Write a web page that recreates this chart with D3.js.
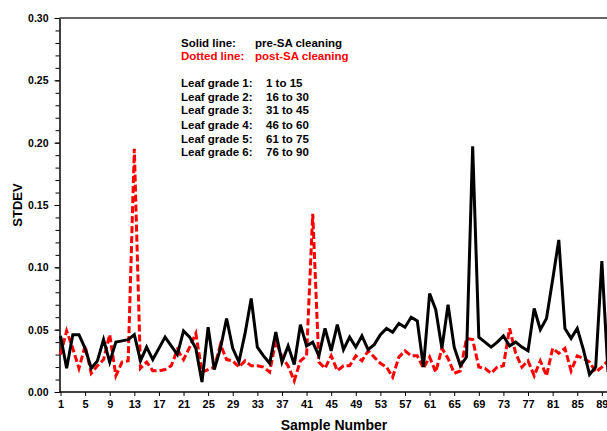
<!DOCTYPE html>
<html>
<head>
<meta charset="utf-8">
<script src="https://cdn.jsdelivr.net/npm/d3@7"></script>
<style>
	html, body { margin: 0; padding: 0; background: #fff; }
	svg { display: block; font-family: "Liberation Sans", Arial, sans-serif; }
	.tick text { font-weight: bold; }
</style>
</head>
<body>
<div id="chart"></div>
<script>
// sample numbers 1..90
var sampleNumbers = d3.range(1, 91);

// pre-SA cleaning (solid black)
var preSA = [
	0.045, 0.019, 0.046, 0.046, 0.035, 0.019, 0.025, 0.042, 0.024, 0.040,
	0.041, 0.042, 0.046, 0.025, 0.036, 0.026, 0.035, 0.044, 0.037, 0.030,
	0.049, 0.044, 0.035, 0.008, 0.052, 0.018, 0.035, 0.059, 0.035, 0.024,
	0.047, 0.075, 0.036, 0.029, 0.023, 0.048, 0.024, 0.037, 0.022, 0.054,
	0.037, 0.040, 0.029, 0.051, 0.033, 0.054, 0.034, 0.044, 0.036, 0.045,
	0.034, 0.038, 0.046, 0.051, 0.048, 0.055, 0.052, 0.060, 0.057, 0.020,
	0.079, 0.066, 0.035, 0.070, 0.036, 0.021, 0.028, 0.197, 0.044, 0.040,
	0.036, 0.040, 0.045, 0.037, 0.040, 0.036, 0.033, 0.067, 0.050, 0.059,
	0.090, 0.122, 0.051, 0.043, 0.051, 0.034, 0.014, 0.020, 0.105, 0.016
];

// post-SA cleaning (dotted red)
var postSA = [
	0.030, 0.049, 0.035, 0.019, 0.037, 0.015, 0.021, 0.026, 0.046, 0.013,
	0.024, 0.025, 0.195, 0.019, 0.024, 0.017, 0.017, 0.018, 0.021, 0.034,
	0.026, 0.036, 0.047, 0.016, 0.018, 0.020, 0.038, 0.026, 0.025, 0.020,
	0.025, 0.021, 0.021, 0.020, 0.016, 0.041, 0.028, 0.021, 0.009, 0.025,
	0.029, 0.143, 0.024, 0.019, 0.029, 0.017, 0.021, 0.021, 0.029, 0.025,
	0.033, 0.028, 0.023, 0.020, 0.012, 0.028, 0.033, 0.029, 0.029, 0.019,
	0.028, 0.016, 0.035, 0.027, 0.015, 0.017, 0.043, 0.042, 0.020, 0.019,
	0.015, 0.020, 0.021, 0.051, 0.031, 0.020, 0.025, 0.013, 0.025, 0.013,
	0.035, 0.031, 0.035, 0.017, 0.029, 0.027, 0.024, 0.016, 0.020, 0.025
];

var xTickValues = [1, 5, 9, 13, 17, 21, 25, 29, 33, 37, 41, 45, 49, 53, 57, 61, 65, 69, 73, 77, 81, 85, 89];
var yTickValues = [0.00, 0.05, 0.10, 0.15, 0.20, 0.25, 0.30];
var yMinorTicks = d3.range(0, 31).map(function(d) { return d / 100; });

var legendSeries = [
	{ label: "Solid line:", text: "pre-SA cleaning", color: "#000" },
	{ label: "Dotted line:", text: "post-SA cleaning", color: "#ff0000" }
];
var legendGrades = [
	["Leaf grade 1:", "1 to 15"],
	["Leaf grade 2:", "16 to 30"],
	["Leaf grade 3:", "31 to 45"],
	["Leaf grade 4:", "46 to 60"],
	["Leaf grade 5:", "61 to 75"],
	["Leaf grade 6:", "76 to 90"]
];

var width = 607, height = 431;
var axisX = 59.5, plotTop = 18, plotBottom = 392;

var svg = d3.select("#chart")
	.append("svg")
	.attr("width", width)
	.attr("height", height);

var x = d3.scaleLinear()
	.domain([1, 90])
	.range([60.5, 608]);

var y = d3.scaleLinear()
	.domain([0, 0.30])
	.range([plotBottom, plotTop]);

// minor y ticks
svg.append("g")
	.attr("transform", "translate(" + axisX + ",0)")
	.call(d3.axisLeft(y).tickValues(yMinorTicks).tickSize(4).tickFormat(""))
	.call(function(g) { g.select(".domain").remove(); })
	.selectAll("line").attr("stroke", "#000").attr("stroke-width", 1);

// y axis
var yAxis = svg.append("g")
	.attr("transform", "translate(" + axisX + ",0)")
	.call(d3.axisLeft(y).tickValues(yTickValues).tickSize(5).tickSizeOuter(0).tickFormat(d3.format(".2f")));
yAxis.select(".domain").attr("stroke-width", 1.5);
yAxis.selectAll("text").attr("font-size", 10.5).attr("fill", "#000").attr("x", -11);

// x axis
var xAxis = svg.append("g")
	.attr("transform", "translate(0," + plotBottom + ")")
	.call(d3.axisBottom(x).tickValues(xTickValues).tickSize(4).tickSizeOuter(0).tickFormat(d3.format("d")));
xAxis.select(".domain").attr("d", "M" + axisX + ",0H" + width).attr("stroke-width", 1.5);
xAxis.selectAll("text").attr("font-size", 11).attr("fill", "#000").attr("y", 8);

// top frame line
svg.append("line")
	.attr("x1", axisX).attr("x2", width)
	.attr("y1", y(0.30)).attr("y2", y(0.30))
	.attr("stroke", "#333")
	.attr("stroke-width", 1.5);

var line = d3.line()
	.x(function(d, i) { return x(sampleNumbers[i]); })
	.y(function(d) { return y(d); });

svg.append("path")
	.datum(postSA)
	.attr("d", line)
	.attr("fill", "none")
	.attr("stroke", "#ff0000")
	.attr("stroke-width", 3)
	.attr("stroke-dasharray", "7,3");

svg.append("path")
	.datum(preSA)
	.attr("d", line)
	.attr("fill", "none")
	.attr("stroke", "#000")
	.attr("stroke-width", 3)
	.attr("stroke-linejoin", "miter");

// axis titles
svg.append("text")
	.attr("x", 334)
	.attr("y", 430)
	.attr("text-anchor", "middle")
	.attr("font-size", 14)
	.attr("font-weight", "bold")
	.text("Sample Number");

svg.append("text")
	.attr("transform", "translate(22,205) rotate(-90)")
	.attr("text-anchor", "middle")
	.attr("font-size", 13)
	.attr("font-weight", "bold")
	.text("STDEV");

// legend notes
var notes = svg.append("g").attr("font-size", 11.5).attr("font-weight", "bold");

legendSeries.forEach(function(s, i) {
	notes.append("text").attr("x", 181).attr("y", 47 + i * 13).attr("fill", s.color).text(s.label);
	notes.append("text").attr("x", 255).attr("y", 47 + i * 13).attr("fill", s.color).text(s.text);
});

var gradeY = [87, 100.5, 114, 129, 142.5, 156];
legendGrades.forEach(function(g, i) {
	notes.append("text").attr("x", 181).attr("y", gradeY[i]).text(g[0]);
	notes.append("text").attr("x", 266).attr("y", gradeY[i]).text(g[1]);
});
</script>
</body>
</html>
